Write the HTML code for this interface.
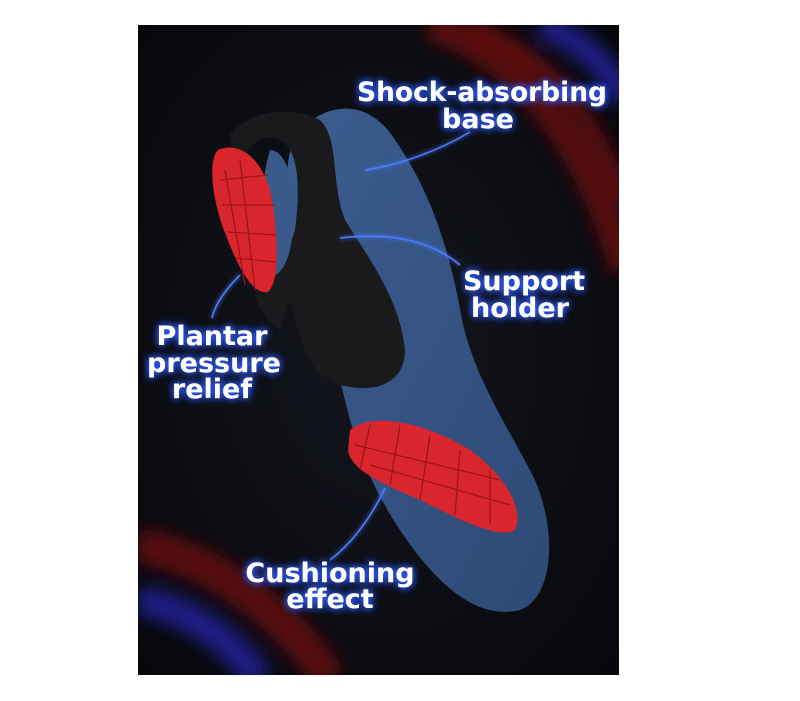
<!DOCTYPE html>
<html><head><style>
html,body{margin:0;padding:0;background:#fff;}
body{width:800px;height:701px;position:relative;overflow:hidden;}
svg{position:absolute;left:0;top:0;}
</style></head><body>
<svg width="800" height="701" viewBox="0 0 800 701">
<defs>
<radialGradient id="bg" cx="50%" cy="50%" r="70%">
<stop offset="0" stop-color="#14161e"/><stop offset="1" stop-color="#07080c"/></radialGradient>
<linearGradient id="sole" x1="0" y1="0" x2="1" y2="1">
<stop offset="0" stop-color="#3c5d90"/><stop offset="1" stop-color="#2e4a76"/></linearGradient>
<filter id="glow" x="-20%" y="-50%" width="140%" height="200%"><feGaussianBlur in="SourceAlpha" stdDeviation="4" result="b"/><feFlood flood-color="#2f5cff"/><feComposite in2="b" operator="in" result="g"/><feMerge><feMergeNode in="g"/><feMergeNode in="g"/><feMergeNode in="SourceGraphic"/></feMerge></filter>
<filter id="lglow"><feGaussianBlur stdDeviation="2" result="b"/><feMerge><feMergeNode in="b"/><feMergeNode in="SourceGraphic"/></feMerge></filter>
<filter id="blur6"><feGaussianBlur stdDeviation="8"/></filter>
<clipPath id="clip"><rect x="138" y="25" width="481" height="650"/></clipPath>
</defs>
<g clip-path="url(#clip)">
<rect x="138" y="25" width="481" height="650" fill="url(#bg)"/>
<g filter="url(#blur6)" fill="none" opacity="0.8">
<path d="M430 25 C530 60 590 150 625 270" stroke="#6a0c0c" stroke-width="30"/>
<path d="M470 25 C560 60 600 130 625 200" stroke="#7a0e10" stroke-width="14"/>
<path d="M540 25 C585 40 610 70 625 100" stroke="#2424a0" stroke-width="26"/>
<path d="M138 545 C220 560 290 620 330 680" stroke="#6a0c0c" stroke-width="35"/>
<path d="M138 600 C190 610 230 640 260 680" stroke="#2424a0" stroke-width="30"/>
</g>
<path d="M300 130 C330 100 370 100 395 140 C430 190 450 250 462 320 C475 380 510 430 535 480 C560 540 550 600 520 610 C480 620 440 590 400 530 C360 470 350 420 340 380 C320 330 300 290 290 230 C285 180 285 150 300 130Z" fill="url(#sole)"/>
<path d="M230 135 C250 110 290 105 320 120 C340 140 330 180 345 220 C370 260 400 300 405 350 C405 380 380 395 340 385 C300 370 300 330 290 300 L280 330 C260 320 250 290 255 270 C275 260 290 250 295 230 C300 190 300 150 280 140 C260 130 245 150 235 170 Z" fill="#1a1a1c"/>
<path d="M270 150 C290 150 300 200 290 250 C285 270 275 280 265 275 C260 240 258 190 270 150Z" fill="#3a5a8c"/>
<path d="M218 150 C240 140 265 160 272 200 C278 240 280 280 268 292 C250 295 235 260 222 225 C212 195 208 160 218 150Z" fill="#d8262c"/>
<path d="M350 430 C375 410 430 425 470 450 C505 475 525 510 515 530 C500 540 460 520 420 500 C385 485 350 470 348 450Z" fill="#d8262c"/>
<g stroke="#9a1418" stroke-width="1.2" fill="none">
<path d="M220 180 L268 175 M222 205 L274 205 M228 232 L276 235 M236 258 L276 262 M240 160 L255 290 M225 170 L245 285"/>
<path d="M370 425 L360 470 M400 425 L390 485 M430 435 L420 500 M460 450 L455 515 M490 470 L490 525 M355 445 L500 480 M370 465 L510 505"/>
</g>
<g stroke="#4a7cff" stroke-width="1.6" fill="none" filter="url(#lglow)">
<path d="M365 170 C400 165 440 150 470 132"/>
<path d="M340 238 C390 232 430 240 460 265"/>
<path d="M240 275 C225 290 215 305 212 318"/>
<path d="M385 488 C370 520 350 545 330 560"/>
</g>
<g font-family="'DejaVu Sans','Liberation Sans',sans-serif" font-weight="bold" font-size="27" fill="#fff" text-anchor="middle" filter="url(#glow)">
<text x="482" y="101" textLength="250" lengthAdjust="spacingAndGlyphs">Shock-absorbing</text>
<text x="478" y="128">base</text>
<text x="524" y="290">Support</text>
<text x="520" y="317">holder</text>
<text x="212" y="345">Plantar</text>
<text x="214" y="372">pressure</text>
<text x="212" y="398">relief</text>
<text x="330" y="582">Cushioning</text>
<text x="330" y="608">effect</text>
</g>
</g>
</svg>
</body></html>
